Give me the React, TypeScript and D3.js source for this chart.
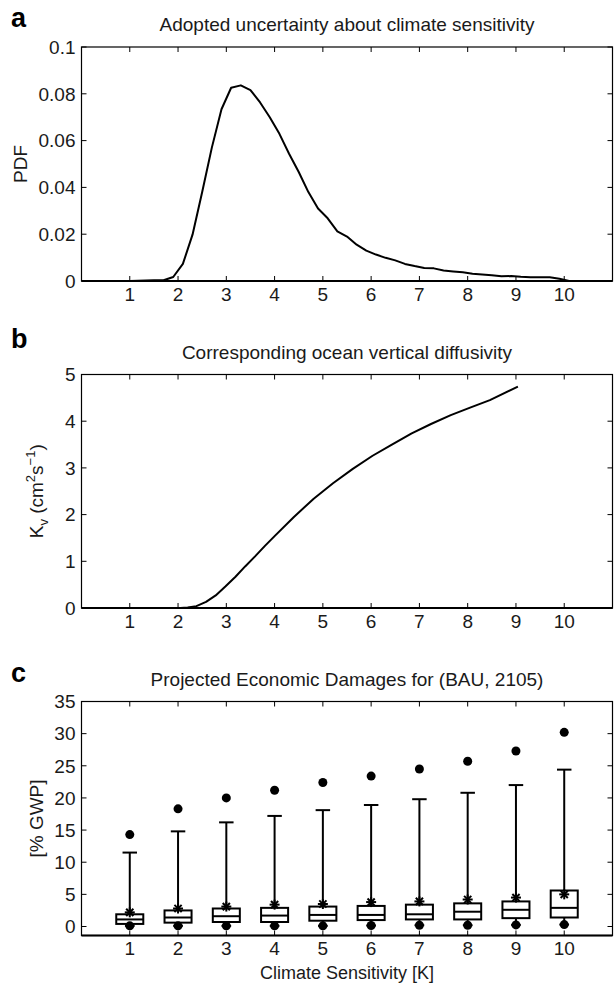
import React from "react";
import * as d3 from "d3";

// ---------- data ----------
const pdfX = [0.1, 1.0, 1.5, 1.7, 1.9, 2.1, 2.3, 2.5, 2.7, 2.9, 3.1, 3.3, 3.5, 3.7, 3.9, 4.1, 4.3, 4.5, 4.7, 4.9, 5.1, 5.3, 5.5, 5.7, 5.9, 6.1, 6.3, 6.5, 6.7, 6.9, 7.1, 7.3, 7.5, 7.7, 7.9, 8.1, 8.3, 8.5, 8.7, 8.9, 9.1, 9.3, 9.5, 9.7, 9.9, 10.1, 10.95];
const pdfY = [0, 0, 0.0003, 0.0003, 0.0017, 0.0073, 0.0198, 0.038, 0.057, 0.0734, 0.0826, 0.0836, 0.0816, 0.0763, 0.07, 0.0629, 0.0544, 0.0466, 0.038, 0.031, 0.0268, 0.0212, 0.019, 0.0155, 0.013, 0.0113, 0.0099, 0.0088, 0.0073, 0.0064, 0.0056, 0.0054, 0.0045, 0.0041, 0.0037, 0.0031, 0.0028, 0.0025, 0.002, 0.0021, 0.0018, 0.0016, 0.0016, 0.0016, 0.001, 0, 0];

const kvX = [1.04, 2.05, 2.2, 2.38, 2.58, 2.78, 2.98, 3.19, 3.39, 3.6, 3.8, 4.0, 4.4, 4.81, 5.21, 5.62, 6.03, 6.43, 6.84, 7.24, 7.65, 8.05, 8.46, 9.04];
const kvY = [0, 0, 0.01, 0.04, 0.13, 0.27, 0.46, 0.67, 0.89, 1.11, 1.33, 1.54, 1.95, 2.34, 2.67, 2.98, 3.26, 3.5, 3.74, 3.94, 4.13, 4.29, 4.45, 4.74];

const sensitivities = [1, 2, 3, 4, 5, 6, 7, 8, 9, 10];
const outlierHigh = [14.3, 18.3, 20.0, 21.2, 22.4, 23.4, 24.5, 25.7, 27.3, 30.2];
const whiskerHigh = [11.5, 14.8, 16.2, 17.2, 18.1, 18.9, 19.8, 20.8, 22.0, 24.4];
const meanVals = [2.2, 2.8, 3.1, 3.4, 3.5, 3.8, 3.9, 4.2, 4.5, 5.0];
const boxTop = [1.9, 2.5, 2.8, 2.9, 3.1, 3.2, 3.4, 3.6, 3.9, 5.6];
const medianVals = [1.1, 1.4, 1.6, 1.7, 1.8, 1.8, 1.9, 2.3, 2.6, 2.9];
const boxBottom = [0.4, 0.6, 0.7, 0.7, 0.9, 1.0, 1.1, 1.1, 1.3, 1.4];
const lowVals = [0.1, 0.1, 0.1, 0.1, 0.1, 0.15, 0.2, 0.2, 0.25, 0.3];

const xTicks = [1, 2, 3, 4, 5, 6, 7, 8, 9, 10];
const pdfTicks = [0, 0.02, 0.04, 0.06, 0.08, 0.1];
const pdfTickLabels = ["0", "0.02", "0.04", "0.06", "0.08", "0.1"];
const kvTicks = [0, 1, 2, 3, 4, 5];
const gwpTicks = [0, 5, 10, 15, 20, 25, 30, 35];

const titles = [
  "Adopted uncertainty about climate sensitivity",
  "Corresponding ocean vertical diffusivity",
  "Projected Economic Damages for (BAU, 2105)",
];

// ---------- layout ----------
const W = 614;
const H = 986;
const L = 81.5;
const R = 612.5;
const FONT = "'Liberation Sans', Arial, Helvetica, sans-serif";
const TICKFS = 19;
const TITLEFS = 19;
const TICKLEN = 5;
const INK = "#1a1a1a";

const x = d3.scaleLinear().domain([0, 11]).range([L, R]);

type Frame = { top: number; bottom: number };
const frameA: Frame = { top: 47, bottom: 281 };
const frameB: Frame = { top: 374.5, bottom: 608 };
const frameC: Frame = { top: 701.5, bottom: 935.5 };

const yA = d3.scaleLinear().domain([0, 0.1]).range([frameA.bottom, frameA.top]);
const yB = d3.scaleLinear().domain([0, 5]).range([frameB.bottom, frameB.top]);
const yC = d3.scaleLinear().domain([-1.4, 35]).range([frameC.bottom, frameC.top]);

function Axes({ f, y, yTicks, yLabels, labelOffset }: { f: Frame; y: d3.ScaleLinear<number, number>; yTicks: number[]; yLabels: string[]; labelOffset: number }) {
  return (
    <g>
      {xTicks.map((t) => (
        <g key={"x" + t}>
          <line x1={x(t)} x2={x(t)} y1={f.bottom} y2={f.bottom - TICKLEN} stroke="#000" strokeWidth={1} />
          <line x1={x(t)} x2={x(t)} y1={f.top} y2={f.top + TICKLEN} stroke="#000" strokeWidth={1} />
          <text x={x(t)} y={f.bottom + labelOffset} textAnchor="middle" fontSize={TICKFS} fontFamily={FONT} fill={INK}>
            {t}
          </text>
        </g>
      ))}
      {yTicks.map((t, i) => (
        <g key={"y" + t}>
          <line x1={L} x2={L + TICKLEN} y1={y(t)} y2={y(t)} stroke="#000" strokeWidth={1} />
          <line x1={R} x2={R - TICKLEN} y1={y(t)} y2={y(t)} stroke="#000" strokeWidth={1} />
          <text x={L - 6} y={y(t)} dy="0.36em" textAnchor="end" fontSize={TICKFS} fontFamily={FONT} fill={INK}>
            {yLabels[i]}
          </text>
        </g>
      ))}
      <rect x={L} y={f.top} width={R - L} height={f.bottom - f.top} fill="none" stroke="#000" strokeWidth={1.2} />
      <line x1={L} x2={R} y1={f.bottom} y2={f.bottom} stroke="#000" strokeWidth={1.8} />
    </g>
  );
}

function Asterisk({ cx, cy, r }: { cx: number; cy: number; r: number }) {
  const d = r * 0.72;
  return (
    <g stroke="#000" strokeWidth={2}>
      <line x1={cx - r} x2={cx + r} y1={cy} y2={cy} />
      <line x1={cx} x2={cx} y1={cy - r} y2={cy + r} />
      <line x1={cx - d} x2={cx + d} y1={cy - d} y2={cy + d} />
      <line x1={cx - d} x2={cx + d} y1={cy + d} y2={cy - d} />
    </g>
  );
}

export default function App() {
  const lineA = d3
    .line<number>()
    .x((_, i) => x(pdfX[i]))
    .y((v) => yA(v));
  const lineB = d3
    .line<number>()
    .x((_, i) => x(kvX[i]))
    .y((v) => yB(v));

  const boxHalf = 0.28;
  const capHalf = 0.15;
  const lowCapHalf = 0.1;

  return (
    <svg width={W} height={H} style={{ position: "absolute", left: 0, top: 0, background: "#fff" }}>
      <rect x={0} y={0} width={W} height={H} fill="#fff" />

      {/* panel letters */}
      <text x={11} y={27} fontSize={27} fontWeight="bold" fontFamily={FONT}>a</text>
      <text x={11} y={348} fontSize={27} fontWeight="bold" fontFamily={FONT}>b</text>
      <text x={11} y={682} fontSize={27} fontWeight="bold" fontFamily={FONT}>c</text>

      {/* titles */}
      <text x={(L + R) / 2} y={frameA.top - 16} textAnchor="middle" fontSize={TITLEFS} fontFamily={FONT} fill={INK}>{titles[0]}</text>
      <text x={(L + R) / 2} y={frameB.top - 16} textAnchor="middle" fontSize={TITLEFS} fontFamily={FONT} fill={INK}>{titles[1]}</text>
      <text x={(L + R) / 2} y={frameC.top - 16} textAnchor="middle" fontSize={TITLEFS} fontFamily={FONT} fill={INK}>{titles[2]}</text>

      {/* panel a */}
      <Axes f={frameA} y={yA} yTicks={pdfTicks} yLabels={pdfTickLabels} labelOffset={20} />
      <path d={lineA(pdfY) || ""} fill="none" stroke="#000" strokeWidth={2} strokeLinejoin="round" />
      <text transform={`translate(27,${(frameA.top + frameA.bottom) / 2}) rotate(-90)`} textAnchor="middle" fontSize={TICKFS} fontFamily={FONT} fill={INK}>PDF</text>

      {/* panel b */}
      <Axes f={frameB} y={yB} yTicks={kvTicks} yLabels={kvTicks.map(String)} labelOffset={20} />
      <path d={lineB(kvY) || ""} fill="none" stroke="#000" strokeWidth={2} strokeLinejoin="round" />
      <text transform={`translate(43,${(frameB.top + frameB.bottom) / 2}) rotate(-90)`} textAnchor="middle" fontSize={TICKFS} fontFamily={FONT} fill={INK}>
        K<tspan fontSize={13} dy={5}>v</tspan>
        <tspan dy={-5}> (cm</tspan>
        <tspan fontSize={13} dy={-8}>2</tspan>
        <tspan dy={8}>s</tspan>
        <tspan fontSize={13} dy={-8}>−1</tspan>
        <tspan dy={8}>)</tspan>
      </text>

      {/* panel c */}
      <Axes f={frameC} y={yC} yTicks={gwpTicks} yLabels={gwpTicks.map(String)} labelOffset={19} />
      <text transform={`translate(43,${(frameC.top + frameC.bottom) / 2}) rotate(-90)`} textAnchor="middle" fontSize={TICKFS} fontFamily={FONT} fill={INK}>[% GWP]</text>
      <text x={(L + R) / 2} y={979} textAnchor="middle" fontSize={18} fontFamily={FONT} fill={INK}>Climate Sensitivity [K]</text>

      {sensitivities.map((k, i) => (
        <g key={"box" + k} stroke="#000" strokeWidth={2} fill="none">
          {/* upper whisker */}
          <line x1={x(k)} x2={x(k)} y1={yC(boxTop[i])} y2={yC(whiskerHigh[i])} />
          <line x1={x(k - capHalf)} x2={x(k + capHalf)} y1={yC(whiskerHigh[i])} y2={yC(whiskerHigh[i])} />
          {/* lower whisker */}
          <line x1={x(k)} x2={x(k)} y1={yC(boxBottom[i])} y2={yC(lowVals[i])} />
          <line x1={x(k - lowCapHalf)} x2={x(k + lowCapHalf)} y1={yC(lowVals[i])} y2={yC(lowVals[i])} />
          {/* box */}
          <rect x={x(k - boxHalf)} y={yC(boxTop[i])} width={x(k + boxHalf) - x(k - boxHalf)} height={yC(boxBottom[i]) - yC(boxTop[i])} fill="#fff" />
          <line x1={x(k - boxHalf)} x2={x(k + boxHalf)} y1={yC(medianVals[i])} y2={yC(medianVals[i])} />
          <circle cx={x(k)} cy={yC(lowVals[i])} r={4.5} fill="#000" stroke="none" />
          <circle cx={x(k)} cy={yC(outlierHigh[i])} r={4.5} fill="#000" stroke="none" />
          <Asterisk cx={x(k)} cy={yC(meanVals[i])} r={5} />
        </g>
      ))}
    </svg>
  );
}
